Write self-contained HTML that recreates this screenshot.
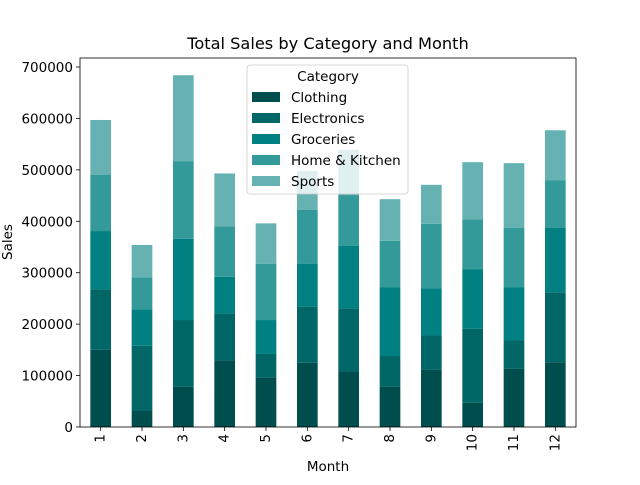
<!DOCTYPE html>
<html><head><meta charset="utf-8"><style>
body{margin:0;background:#fff}
svg{font-family:"DejaVu Sans","Liberation Sans",sans-serif}
</style></head><body>
<svg id="c" width="640" height="480"></svg>
<script>
const months=["1","2","3","4","5","6","7","8","9","10","11","12"];
const categories=["Clothing","Electronics","Groceries","Home & Kitchen","Sports"];
const clothing=[150000,32000,78000,130000,96000,125000,108000,78000,111000,47000,113000,126000];
const electronics=[118000,126000,130000,91000,46000,109000,123000,60000,67000,144000,56000,136000];
const groceries=[113000,71000,158000,71000,66000,83000,121000,134000,92000,116000,103000,125000];
const home=[109000,62000,151000,98000,109000,105000,99000,90000,125000,97000,115000,93000];
const sports=[107000,63000,167000,103000,79000,76000,88000,81000,76000,111000,126000,97000];
const yTicks=[0,100000,200000,300000,400000,500000,600000,700000];
const colors=["#004d4d","#006666","#008080","#339999","#66b2b2"];
const series=[clothing,electronics,groceries,home,sports];
const L=80,R=576,T=58,B=427,yMax=717500;
const NS="http://www.w3.org/2000/svg";
const svg=document.getElementById('c');
function y(v){return B-(v/yMax)*(B-T);}
function x(i){return L+(R-L)/months.length*(i+0.5);}
function el(t,a,txt){const e=document.createElementNS(NS,t);for(const k in a)e.setAttribute(k,a[k]);if(txt!==undefined)e.textContent=txt;svg.appendChild(e);return e;}
const bw=(R-L)/months.length*0.5;
months.forEach((m,i)=>{let cum=0;series.forEach((s,j)=>{const v=s[i];
const r=el('rect',{x:x(i)-bw/2,y:y(cum+v),width:bw,height:y(cum)-y(cum+v),fill:colors[j]});


cum+=v;});
const t=el('line',{x1:x(i),x2:x(i),y1:B,y2:B+4,stroke:'#000','stroke-width':0.8});


const lb=el('text',{x:0,y:0,'font-size':13.5,'text-anchor':'end','dominant-baseline':'central',transform:`translate(${x(i)},${B+7}) rotate(-90)`},m);


});
yTicks.forEach(v=>{
const t=el('line',{x1:L-4,x2:L,y1:y(v),y2:y(v),stroke:'#000','stroke-width':0.8});


const lb=el('text',{x:L-7,y:y(v)+5,'font-size':13.5,'text-anchor':'end'},String(v));


});
const fr=el('rect',{x:L,y:T,width:R-L,height:B-T,fill:'none',stroke:'#000','stroke-width':0.8});


const ti=el('text',{x:328,y:49,'font-size':16.2,'text-anchor':'middle'},'Total Sales by Category and Month');


const xt=el('text',{x:328,y:471,'font-size':13.5,'text-anchor':'middle'},'Month');


const yt=el('text',{x:0,y:0,'font-size':13.5,'text-anchor':'middle',transform:'translate(12,242) rotate(-90)'},'Sales');


const lg=el('rect',{x:247,y:65,width:161,height:129,rx:3,fill:'#fff','fill-opacity':0.8,stroke:'#ccc','stroke-width':0.8});


const lt=el('text',{x:328,y:81,'font-size':13.5,'text-anchor':'middle'},'Category');


categories.forEach((c,j)=>{const yy=97+j*21;
const p=el('rect',{x:252,y:yy-5,width:28,height:10,fill:colors[j]});


const tx=el('text',{x:291,y:yy+5,'font-size':13.5},c);


});
</script>
</body></html>
